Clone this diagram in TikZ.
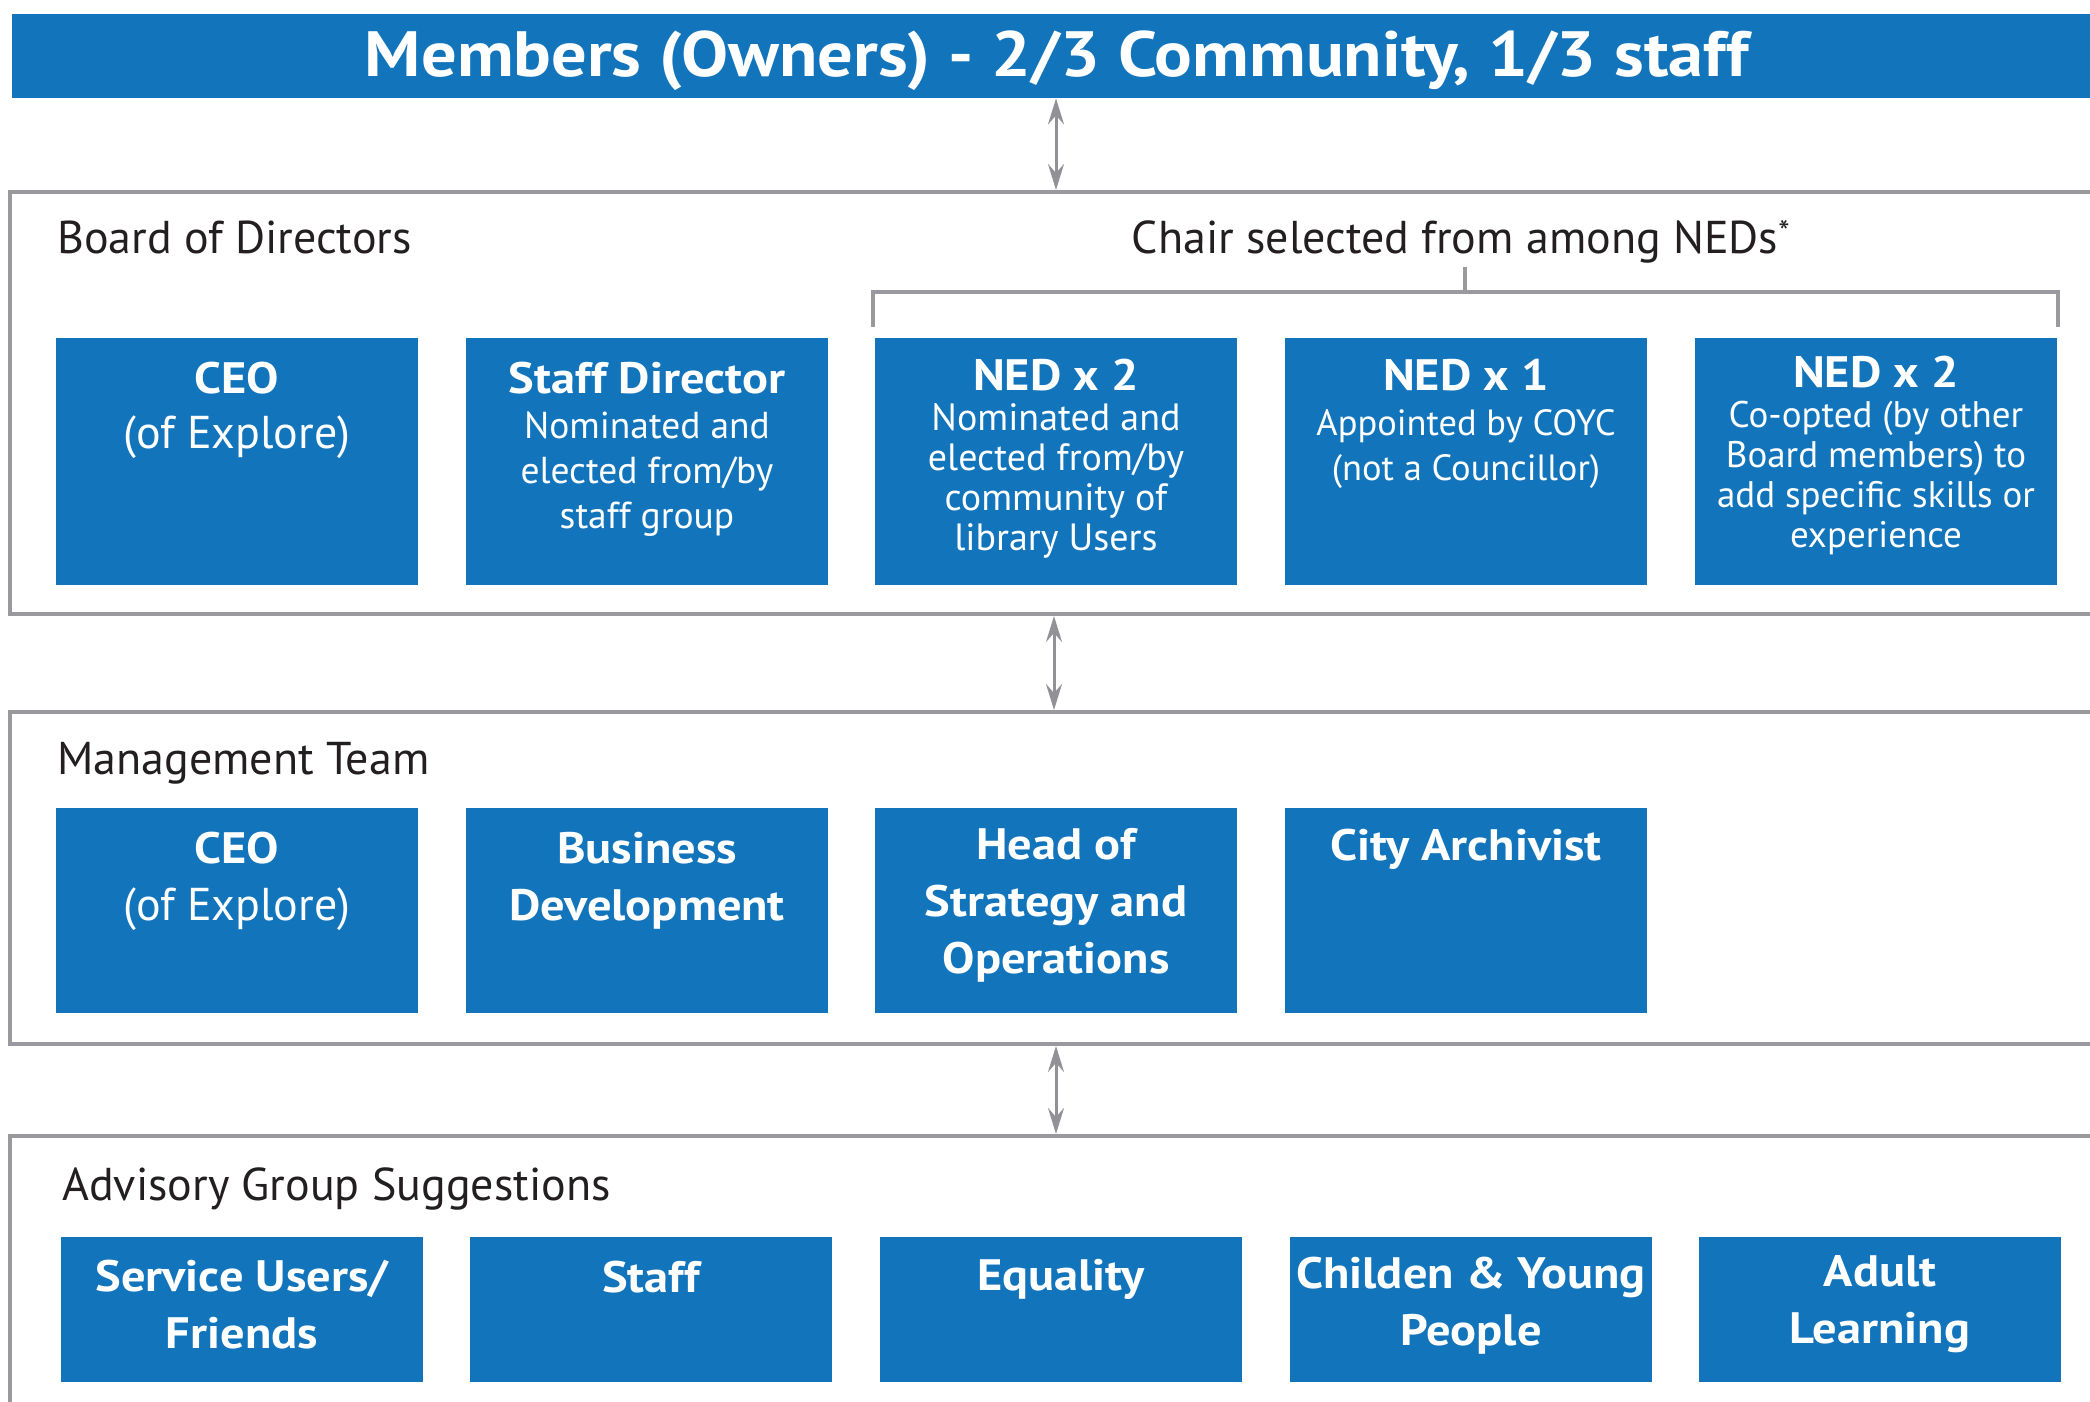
\documentclass[tikz,border=0pt]{standalone}
\usepackage{fontspec}
\setmainfont{PT Sans}[BoldFeatures={FakeStretch=1.1}]
\usetikzlibrary{arrows.meta}
\definecolor{boxblue}{HTML}{1275BC}
\definecolor{framegrey}{HTML}{9A9A9E}
\definecolor{arrowgrey}{HTML}{929296}
\definecolor{inkblack}{HTML}{231F20}
\tikzset{
  bannerbox/.style={fill=boxblue, draw=none, minimum width=2100pt, minimum height=84pt, anchor=north west, inner sep=0},
  framebox/.style={draw=framegrey, line width=4pt, anchor=north west, inner sep=0},
  bluebox/.style={fill=boxblue, draw=none, minimum width=362pt, anchor=north west, inner sep=0},
  boxtext/.style={text=white, align=center, anchor=base, inner sep=0},
  heading/.style={text=inkblack, anchor=base west, inner sep=0, font=\fontsize{46}{50}\selectfont},
  link/.style={draw=arrowgrey, line width=3pt, {Stealth[length=26pt,width=16pt,inset=9pt]}-{Stealth[length=26pt,width=16pt,inset=9pt]}},
  bracketline/.style={draw=framegrey, line width=4pt},
}
\newcommand{\ttl}[1]{{\fontsize{44}{44}\selectfont\bfseries #1}}
\begin{document}
\begin{tikzpicture}[x=1pt,y=-1pt]
\clip (0,0) rectangle (2090,1402);
\fill[white] (0,0) rectangle (2090,1402);
% banner
\node[bannerbox] (banner) at (12,14) {};
\node[text=white, inner sep=0, anchor=base, font=\fontsize{64}{70}\selectfont\bfseries] (bannertext) at (1057,77) {Members (Owners) - 2/3 Community, 1/3 staff};
% frames
\node[framebox, minimum width=2100pt, minimum height=422pt] (board) at (8,190) {};
\node[framebox, minimum width=2100pt, minimum height=332pt] (mgmt) at (8,710) {};
\node[framebox, minimum width=2100pt, minimum height=320pt] (adv) at (8,1134) {};
% headings
\node[heading] (boardlbl) at (57,253) {Board of Directors};
\node[heading, anchor=base] (chairlbl) at (1461,253) {Chair selected from among NEDs\textsuperscript{*}};
\node[heading] (mgmtlbl) at (57,774) {Management Team};
\node[heading] (advlbl) at (62,1200) {Advisory Group Suggestions};
% bracket
\coordinate (brl) at (873,327);
\coordinate (brr) at (2058,327);
\coordinate (brm) at (1465,292);
\draw[bracketline] (brl) -- (brl |- brm) -- (brr |- brm) -- (brr);
\draw[bracketline] (brm) -- ([yshift=25pt]brm);
% board boxes
\foreach \n/\x in {b1/56,b2/466,b3/875,b4/1285,b5/1695}{
  \node[bluebox, minimum height=247pt] (\n) at (\x,338) {};
}
\node[boxtext, font=\fontsize{46}{55}\selectfont] (b1t) at (237,448) {\ttl{CEO}\\(of Explore)};
\node[boxtext, font=\fontsize{37.5}{45}\selectfont] (b2t) at (647,528) {\ttl{Staff Director}\\Nominated and\\elected from/by\\staff group};
\node[boxtext, font=\fontsize{38}{40}\selectfont] (b3t) at (1056,550) {\ttl{NED x 2}\\Nominated and\\elected from/by\\community of\\library Users};
\node[boxtext, font=\fontsize{36.5}{45}\selectfont] (b4t) at (1466,480) {\ttl{NED x 1}\\Appointed by COYC\\(not a Councillor)};
\node[boxtext, font=\fontsize{37}{40}\selectfont] (b5t) at (1876,547) {\ttl{NED x 2}\\Co-opted (by other\\Board members) to\\add specific skills or\\experience};
% management boxes
\foreach \n/\x in {m1/56,m2/466,m3/875,m4/1285}{
  \node[bluebox, minimum height=205pt] (\n) at (\x,808) {};
}
\node[boxtext, font=\fontsize{46}{57}\selectfont] (m1t) at (237,920) {\ttl{CEO}\\(of Explore)};
\node[boxtext, font=\fontsize{44}{57}\selectfont\bfseries] (m2t) at (647,920) {Business\\Development};
\node[boxtext, font=\fontsize{44}{57}\selectfont\bfseries] (m3t) at (1056,973) {Head of\\Strategy and\\Operations};
\node[boxtext, font=\fontsize{44}{57}\selectfont\bfseries] (m4t) at (1466,860) {City Archivist};
% advisory boxes
\foreach \n/\x in {a1/61,a2/470,a3/880,a4/1290,a5/1699}{
  \node[bluebox, minimum height=145pt] (\n) at (\x,1237) {};
}
\node[boxtext, font=\fontsize{44}{57}\selectfont\bfseries] (a1t) at (242,1348) {Service Users/\\Friends};
\node[boxtext, font=\fontsize{44}{57}\selectfont\bfseries] (a2t) at (651,1292) {Staff};
\node[boxtext, font=\fontsize{44}{57}\selectfont\bfseries] (a3t) at (1061,1290) {Equality};
\node[boxtext, font=\fontsize{44}{57}\selectfont\bfseries] (a4t) at (1471,1345) {Childen \& Young\\People};
\node[boxtext, font=\fontsize{44}{57}\selectfont\bfseries] (a5t) at (1880,1343) {Adult\\Learning};
% connectors
\coordinate (ax1) at (1056,0);
\coordinate (ax2) at (1054,0);
\draw[link] (banner.south -| ax1) -- (board.north -| ax1);
\draw[link] (board.south -| ax2) -- (mgmt.north -| ax2);
\draw[link] (mgmt.south -| ax1) -- (adv.north -| ax1);
\end{tikzpicture}
\end{document}
